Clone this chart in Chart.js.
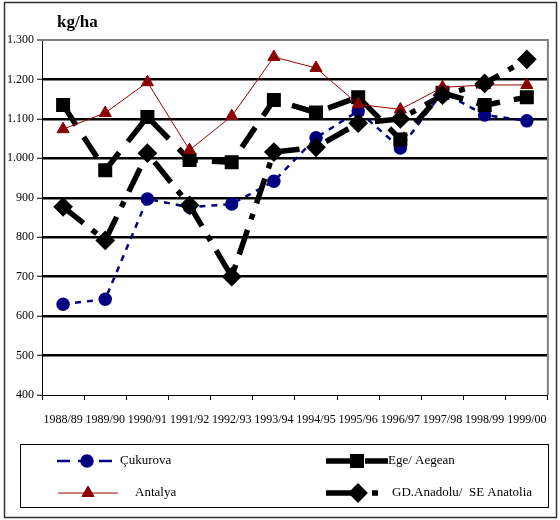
<!DOCTYPE html>
<html>
<head>
  <title>kg/ha</title>
  <script src="https://cdn.jsdelivr.net/npm/chart.js"></script>
  <style>
    body { margin: 0; background: #fff; }
    #wrap { width: 560px; height: 520px; }
  </style>
</head>
<body>
  <div id="wrap"><canvas id="yieldChart" width="560" height="520"></canvas></div>

  <script>
    const seasons = ['1988/89', '1989/90', '1990/91', '1991/92', '1992/93', '1993/94',
      '1994/95', '1995/96', '1996/97', '1997/98', '1998/99', '1999/00'];
    const cukurova = [630, 643, 897, 876, 884, 942, 1052, 1120, 1026, 1168, 1110, 1095];
    const ege = [1135, 970, 1105, 996, 990, 1148, 1116, 1155, 1048, 1166, 1135, 1155];
    const antalya = [1074, 1115, 1193, 1021, 1107, 1257, 1229, 1137, 1124, 1180, 1186, 1186];
    const anadolu = [877, 792, 1013, 881, 700, 1016, 1028, 1089, 1100, 1160, 1190, 1251];
    const seriesNames = ['Çukurova', 'Ege/ Aegean', 'Antalya', 'GD.Anadolu/  SE Anatolia'];

    const serif = "'Liberation Serif', 'Times New Roman', serif";

    function fmt(v) {
      if (v >= 1000) return Math.floor(v / 1000) + '.' + String(v % 1000).padStart(3, '0');
      return String(v);
    }

    // legend in a box, two columns, plus the outer frame and unit label
    const extras = {
      id: 'extras',
      afterDraw(chart) {
        const ctx = chart.ctx;
        const ca = chart.chartArea;
        ctx.save();
        // plot frame top/right (grey)
        ctx.strokeStyle = '#808080';
        ctx.lineWidth = 2;
        ctx.beginPath();
        ctx.moveTo(ca.left, ca.top);
        ctx.lineTo(ca.right, ca.top);
        ctx.lineTo(ca.right, ca.bottom);
        ctx.stroke();

        // outer frame
        ctx.strokeStyle = '#333';
        ctx.lineWidth = 1.5;
        ctx.strokeRect(4.5, 2.5, 552, 515);

        // unit label
        ctx.fillStyle = '#000';
        ctx.font = 'bold 17px ' + serif;
        ctx.textBaseline = 'middle';
        ctx.fillText('kg/ha', 57, 23);

        // legend box
        ctx.strokeStyle = '#000';
        ctx.lineWidth = 1;
        ctx.strokeRect(20.5, 444.5, 528, 63);

        const items = [
          { ds: 0, x0: 57, x1: 117, mx: 87, tx: 120, y: 461, dash: [13, 8] },
          { ds: 1, x0: 326, x1: 388, mx: 357, tx: 388, y: 461, dash: [31, 8] },
          { ds: 2, x0: 58, x1: 118, mx: 88, tx: 135, y: 493, dash: [] },
          { ds: 3, x0: 326, x1: 380, mx: 358, tx: 392, y: 493, dash: [30, 16, 6, 9] }
        ];
        items.forEach(it => {
          const d = chart.data.datasets[it.ds];
          ctx.strokeStyle = d.borderColor;
          ctx.lineWidth = d.borderWidth;
          ctx.setLineDash(it.dash);
          ctx.beginPath();
          ctx.moveTo(it.x0, it.y);
          ctx.lineTo(it.x1, it.y);
          ctx.stroke();
          ctx.setLineDash([]);
          ctx.fillStyle = d.pointBackgroundColor;
          ctx.strokeStyle = d.pointBorderColor;
          Chart.helpers.drawPoint(ctx, {
            pointStyle: d.pointStyle, radius: d.pointRadius, rotation: 0, borderWidth: 1
          }, it.mx, it.y);
          ctx.fillStyle = '#000';
          ctx.font = '13px ' + serif;
          ctx.textBaseline = 'middle';
          ctx.fillText(d.label, it.tx, it.y);
        });
        ctx.restore();
      }
    };

    const ctx1 = document.getElementById('yieldChart').getContext('2d');
    const chart1 = new Chart(ctx1, {
      type: 'line',
      data: {
        labels: seasons,
        datasets: [{
          label: seriesNames[0],
          data: cukurova,
          borderColor: '#000080',
          borderWidth: 2.5,
          borderDash: [6, 6],
          pointStyle: 'circle',
          pointRadius: 5.5,
          pointBackgroundColor: '#000080',
          pointBorderColor: '#000080',
          order: 3,
        }, {
          label: seriesNames[1],
          data: ege,
          borderColor: '#000',
          borderWidth: 5.5,
          borderDash: [24, 14],
          pointStyle: 'rect',
          pointRadius: 6,
          pointBackgroundColor: '#000',
          pointBorderColor: '#000',
          order: 2,
        }, {
          label: seriesNames[2],
          data: antalya,
          borderColor: '#990000',
          borderWidth: 1,
          pointStyle: 'triangle',
          pointRadius: 7,
          pointBackgroundColor: '#8b0000',
          pointBorderColor: '#8b0000',
          order: 1,
        }, {
          label: seriesNames[3],
          data: anadolu,
          borderColor: '#000',
          borderWidth: 5.5,
          borderDash: [26, 11, 6, 11],
          pointStyle: 'rectRot',
          pointRadius: 6,
          pointBackgroundColor: '#000',
          pointBorderColor: '#000',
          order: 0,
        }],
      },
      options: {
        responsive: false,
        animation: false,
        layout: { padding: { left: 0, top: 40, right: 12, bottom: 95 } },
        plugins: { legend: { display: false }, tooltip: { enabled: false } },
        elements: { line: { tension: 0 }, point: { borderWidth: 1 } },
        scales: {
          x: {
            offset: true,
            grid: { offset: true, drawOnChartArea: false, color: '#000', tickLength: 5, tickWidth: 1 },
            border: { color: '#000', width: 1 },
            ticks: { color: '#000', font: { family: serif, size: 12 }, maxRotation: 0, autoSkip: false, padding: 13 },
            afterFit(scale) { scale.height = 30; },
          },
          y: {
            min: 400,
            max: 1300,
            grid: {
              color: c => c.tick && c.tick.value === 1300 ? '#808080' : (c.tick && c.tick.value === 400 ? 'rgba(0,0,0,0)' : '#000'),
              lineWidth: c => c.tick && c.tick.value === 1300 ? 2 : 2.5,
              tickColor: '#000',
              tickWidth: 1,
              tickLength: 5,
            },
            border: { color: '#000', width: 1 },
            ticks: { stepSize: 100, color: '#000', font: { family: serif, size: 12 }, padding: 3, callback: v => fmt(v) },
            afterFit(scale) { scale.width = 42; },
          },
        },
      },
      plugins: [extras],
    });
  </script>
</body>
</html>
